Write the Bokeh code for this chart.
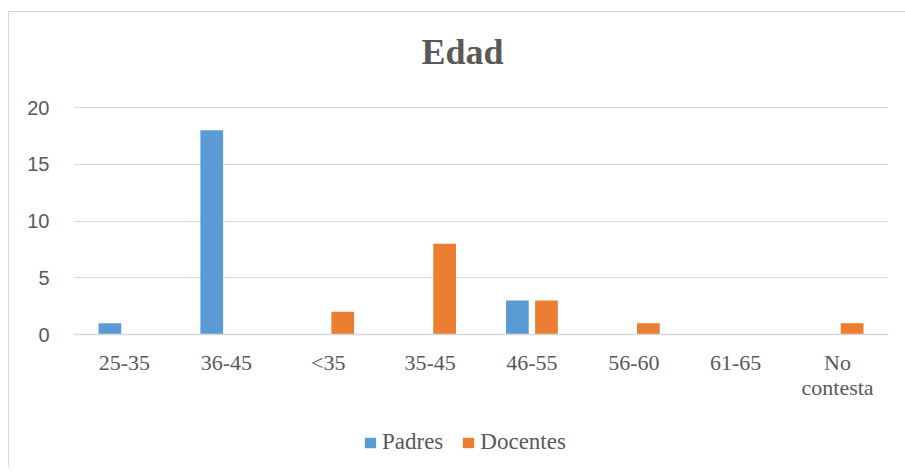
from bokeh.plotting import figure
from bokeh.layouts import column
from bokeh.models import ColumnDataSource, Range1d, FixedTicker, Legend, LegendItem, LinearAxis, Label
from bokeh.transform import dodge
from bokeh.embed import file_html
from bokeh.resources import INLINE

title_text = "Edad"
categories = ["25-35", "36-45", "<35", "35-45", "46-55", "56-60", "61-65", "No contesta"]
padres = [1, 18, 0, 0, 3, 0, 0, 0]
docentes = [0, 0, 2, 8, 3, 1, 0, 1]
y_ticks = [0, 5, 10, 15, 20]
series_names = ["Padres", "Docentes"]
series_colors = ["#5B9BD5", "#ED7D31"]

pos = list(range(len(categories)))
source = ColumnDataSource(data=dict(pos=pos, padres=padres, docentes=docentes))

TEXT = "#595959"

# title strip
tf = figure(width=896, height=80, x_range=Range1d(0, 1), y_range=Range1d(0, 1),
            output_backend="svg", toolbar_location=None, min_border=0,
            x_axis_location=None, y_axis_location=None)
tf.grid.visible = False
tf.outline_line_color = None
tf.add_layout(Label(x=389, y=41, x_units="screen", y_units="screen", text=title_text,
                    text_align="center", text_baseline="alphabetic",
                    text_font="Liberation Serif", text_font_style="bold",
                    text_font_size="36px", text_color=TEXT))

# main chart
p = figure(
    x_range=Range1d(-0.5, len(categories) - 0.5),
    y_range=Range1d(0, 20.1),
    width=896, height=325,
    output_backend="svg", toolbar_location=None,
    min_border_left=64, min_border_right=17,
    min_border_top=14, min_border_bottom=83,
)

p.vbar(x=dodge("pos", -0.143), top="padres", width=0.223,
       source=source, fill_color=series_colors[0], line_color=None)
p.vbar(x=dodge("pos", 0.143), top="docentes", width=0.223,
       source=source, fill_color=series_colors[1], line_color=None)

p.outline_line_color = None
p.xgrid.visible = False
p.ygrid.grid_line_color = "#D9D9D9"
p.ygrid.grid_line_width = 1

p.yaxis.ticker = FixedTicker(ticks=y_ticks)
p.yaxis.axis_line_color = None
p.yaxis.major_tick_line_color = None
p.yaxis.minor_tick_line_color = None
p.yaxis.major_tick_out = 0
p.yaxis.major_label_standoff = 24
p.yaxis.major_label_text_font = "Liberation Sans"
p.yaxis.major_label_text_font_size = "20px"
p.yaxis.major_label_text_color = TEXT

first_lines = {i: c.split(" ")[0] for i, c in enumerate(categories)}
second_lines = {i: (c.split(" ", 1)[1] if " " in c else "") for i, c in enumerate(categories)}

p.xaxis.ticker = FixedTicker(ticks=pos)
p.xaxis.major_label_overrides = first_lines
p.xaxis.axis_line_color = "#D9D9D9"
p.xaxis.axis_line_width = 1.5
p.xaxis.major_tick_line_color = None
p.xaxis.minor_tick_line_color = None
p.xaxis.major_tick_out = 0
p.xaxis.major_label_standoff = 15
p.xaxis.major_label_text_font = "Liberation Serif"
p.xaxis.major_label_text_font_size = "22px"
p.xaxis.major_label_text_color = TEXT

ax2 = LinearAxis(
    ticker=FixedTicker(ticks=[i for i in pos if second_lines[i]]),
    major_label_overrides=second_lines,
    axis_line_color=None, major_tick_line_color=None, minor_tick_line_color=None,
    major_tick_out=0, major_label_standoff=-3,
    major_label_text_font="Liberation Serif", major_label_text_font_size="22px",
    major_label_text_color=TEXT,
)
p.add_layout(ax2, "below")

# legend strip
lf = figure(width=896, height=50, x_range=Range1d(0, 1), y_range=Range1d(0, 1),
            output_backend="svg", toolbar_location=None, min_border=0,
            x_axis_location=None, y_axis_location=None)
lf.grid.visible = False
lf.outline_line_color = None
lr1 = lf.vbar(x="pos", top="padres", width=0.1, source=source,
              fill_color=series_colors[0], line_color=None, visible=False)
lr2 = lf.vbar(x="pos", top="docentes", width=0.1, source=source,
              fill_color=series_colors[1], line_color=None, visible=False)
legend = Legend(
    items=[LegendItem(label=series_names[0], renderers=[lr1]),
           LegendItem(label=series_names[1], renderers=[lr2])],
    orientation="horizontal", location=(290, 12),
    border_line_color=None, background_fill_alpha=0,
    inactive_fill_alpha=0,
    glyph_width=14, glyph_height=13, label_standoff=5, spacing=18,
    label_text_font="Liberation Serif", label_text_font_size="23px",
    label_text_color=TEXT, margin=0, padding=0,
)
lf.add_layout(legend)

layout = column(tf, p, lf, spacing=0, styles={
    "border-left": "1px solid #D9D9D9", "border-top": "1px solid #D9D9D9",
    "margin-left": "8px", "margin-top": "11px"})

open("out.html", "w").write(file_html(layout, INLINE))
